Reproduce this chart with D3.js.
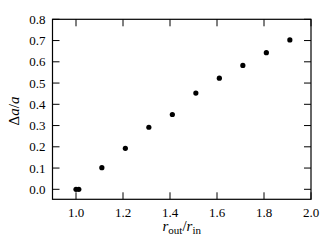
<!DOCTYPE html>
<html><head><meta charset="utf-8">
<script src="https://cdn.jsdelivr.net/npm/d3@7"></script>
<style>body{margin:0;background:#fff}svg{display:block}text{font-family:"Liberation Serif","DejaVu Serif",serif;fill:#000}</style>
</head><body><svg id="c" width="332" height="249"></svg>
<script>
const xVals = [1.0, 1.012, 1.11, 1.21, 1.31, 1.41, 1.51, 1.61, 1.71, 1.81, 1.91];
const yVals = [0.0, 0.0, 0.102, 0.193, 0.292, 0.352, 0.453, 0.523, 0.583, 0.643, 0.703];
const xTicks = [1.0, 1.2, 1.4, 1.6, 1.8, 2.0];
const yTicks = [0.0, 0.1, 0.2, 0.3, 0.4, 0.5, 0.6, 0.7, 0.8];

const svg = d3.select("#c");
const L = 52.5, R = 311, T = 19.3, B = 199.3;
const x = d3.scaleLinear().domain([0.9, 2.0]).range([L, R]);
const y = d3.scaleLinear().domain([-0.047, 0.8]).range([B, T]);
const tl = 7;

const g = svg.append("g");
g.selectAll(".xtb").data(xTicks).join("line")
  .attr("x1", d => x(d)).attr("x2", d => x(d)).attr("y1", B).attr("y2", B - tl)
  .attr("stroke", "#000").attr("stroke-width", 1);
g.selectAll(".xtt").data(xTicks).join("line")
  .attr("x1", d => x(d)).attr("x2", d => x(d)).attr("y1", T).attr("y2", T + tl)
  .attr("stroke", "#000").attr("stroke-width", 1);
g.selectAll(".ytl").data(yTicks).join("line")
  .attr("x1", L).attr("x2", L + tl).attr("y1", d => y(d)).attr("y2", d => y(d))
  .attr("stroke", "#000").attr("stroke-width", 1);
g.selectAll(".ytr").data(yTicks).join("line")
  .attr("x1", R).attr("x2", R - tl).attr("y1", d => y(d)).attr("y2", d => y(d))
  .attr("stroke", "#000").attr("stroke-width", 1);

svg.append("rect").attr("x", L).attr("y", T).attr("width", R - L).attr("height", B - T)
  .attr("fill", "none").attr("stroke", "#000").attr("stroke-width", 1.2);

svg.selectAll(".xl").data(xTicks).join("text")
  .attr("x", d => x(d)).attr("y", 216.5).attr("text-anchor", "middle")
  .attr("font-size", 13).text(d => d.toFixed(1));
svg.selectAll(".yl").data(yTicks).join("text")
  .attr("x", 45.5).attr("y", d => y(d) + 4.5).attr("text-anchor", "end")
  .attr("font-size", 13).text(d => d.toFixed(1));

svg.selectAll(".pt").data(xVals.map((v, i) => [v, yVals[i]])).join("circle")
  .attr("cx", d => x(d[0])).attr("cy", d => y(d[1])).attr("r", 2.6).attr("fill", "#000");

const xl = svg.append("text").attr("x", (L + R) / 2).attr("y", 231).attr("text-anchor", "middle").attr("font-size", 15);
xl.append("tspan").attr("font-style", "italic").text("r");
xl.append("tspan").attr("font-size", 11).attr("dy", 2.5).text("out");
xl.append("tspan").attr("dy", -2.5).text("/");
xl.append("tspan").attr("font-style", "italic").text("r");
xl.append("tspan").attr("font-size", 11).attr("dy", 2.5).text("in");

const yl = svg.append("text").attr("transform", `translate(19,111) rotate(-90)`)
  .attr("text-anchor", "middle").attr("font-size", 15);
yl.append("tspan").text("Δ");
yl.append("tspan").attr("font-style", "italic").text("a");
yl.append("tspan").text("/");
yl.append("tspan").attr("font-style", "italic").text("a");
</script></body></html>
